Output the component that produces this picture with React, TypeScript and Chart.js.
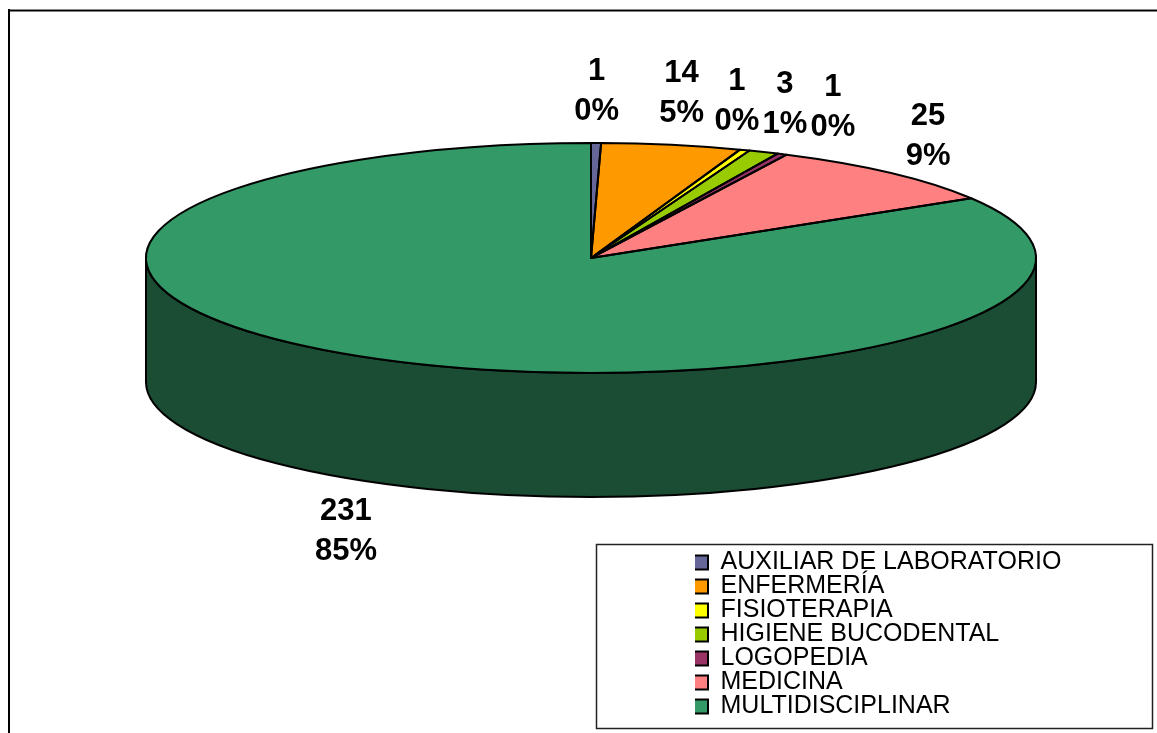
import React, { useEffect, useRef } from "react";
import { Chart, registerables } from "chart.js";

Chart.register(...registerables);

const CATEGORIES = [
  "AUXILIAR DE LABORATORIO",
  "ENFERMERÍA",
  "FISIOTERAPIA",
  "HIGIENE BUCODENTAL",
  "LOGOPEDIA",
  "MEDICINA",
  "MULTIDISCIPLINAR",
];
const VALUES = [1, 14, 1, 3, 1, 25, 231];
const PERCENT_LABELS = ["0%", "5%", "0%", "1%", "0%", "9%", "85%"];
const COLORS = ["#666699", "#FF9900", "#FFFF00", "#99CC00", "#993366", "#FF8080", "#339966"];

// layout constants
const W = 1157;
const H = 733;
const CX = 591;
const CY = 258;
const RX = 445;
const RY = 115;
const DEPTH = 124;
const LABEL_A = 500;
const LABEL_B = 172;
const LABEL_TOP_DY = 5;
const LABEL_GAP = 48;
const FONT = "'Liberation Sans', Arial, Helvetica, sans-serif";

function darken(hex: string, f: number) {
  const n = parseInt(hex.slice(1), 16);
  const r = Math.round(((n >> 16) & 255) * f);
  const g = Math.round(((n >> 8) & 255) * f);
  const b = Math.round((n & 255) * f);
  return `rgb(${r},${g},${b})`;
}

const pie3d = {
  id: "pie3d",
  beforeDraw(chart: any) {
    const ctx = chart.ctx;
    ctx.save();
    ctx.fillStyle = "#fff";
    ctx.fillRect(0, 0, W, H);
    ctx.fillStyle = "#888";
    ctx.fillRect(8, 9, W - 8, 1);
    ctx.fillStyle = "#000";
    ctx.fillRect(8, 10, W - 8, 1.5);
    ctx.fillRect(8, 9, 2, H - 9);
    // legend frame
    ctx.strokeStyle = "#222";
    ctx.lineWidth = 1.5;
    ctx.strokeRect(596.5, 544.5, 556, 184);
    ctx.restore();
  },
  afterLayout(chart: any) {
    const lg = chart.legend;
    if (lg) {
      lg.left = 695;
      lg.right = 1150;
      lg.top = 551;
      lg.bottom = 733;
    }
  },
  beforeDatasetsDraw(chart: any) {
    const ctx = chart.ctx;
    const arcs = chart.getDatasetMeta(0).data;
    // side walls (front half only)
    ctx.save();
    ctx.lineWidth = 2;
    ctx.strokeStyle = "#000";
    ctx.lineJoin = "round";
    arcs.forEach((arc: any, i: number) => {
      const s = arc.startAngle;
      const e = arc.endAngle;
      const a = Math.max(s, 0);
      const b = Math.min(e, Math.PI);
      if (b > a) {
        ctx.beginPath();
        ctx.ellipse(CX, CY, RX, RY, 0, a, b, false);
        ctx.ellipse(CX, CY + DEPTH, RX, RY, 0, b, a, true);
        ctx.closePath();
        ctx.fillStyle = darken(COLORS[i], 0.5);
        ctx.fill();
        ctx.stroke();
      }
    });
    ctx.restore();
    // map Chart.js circle onto the ellipse of the top face
    const a0 = arcs[0];
    const r = a0.outerRadius;
    ctx.save();
    ctx.translate(CX, CY);
    ctx.scale(RX / r, RY / r);
    ctx.translate(-a0.x, -a0.y);
  },
  afterDatasetsDraw(chart: any) {
    const ctx = chart.ctx;
    ctx.restore();
    const arcs = chart.getDatasetMeta(0).data;
    ctx.save();
    ctx.lineWidth = 2;
    ctx.strokeStyle = "#000";
    ctx.lineJoin = "round";
    arcs.forEach((arc: any) => {
      ctx.beginPath();
      ctx.moveTo(CX, CY);
      ctx.ellipse(CX, CY, RX, RY, 0, arc.startAngle, arc.endAngle, false);
      ctx.closePath();
      ctx.stroke();
    });
    // data labels
    const labels = arcs.map((arc: any, i: number) => {
      const mid = (arc.startAngle + arc.endAngle) / 2;
      const sn = Math.sin(mid);
      return {
        i,
        x: CX + LABEL_A * Math.cos(mid),
        y: CY + LABEL_B * sn + (sn > 0 ? DEPTH : LABEL_TOP_DY),
        top: sn < 0,
      };
    });
    const tops = labels.filter((l: any) => l.top).sort((p: any, q: any) => p.x - q.x);
    for (let it = 0; it < 300; it++) {
      for (let k = 0; k < tops.length - 1; k++) {
        const d = tops[k + 1].x - tops[k].x;
        if (d < LABEL_GAP) {
          const m = (LABEL_GAP - d) / 2;
          tops[k].x -= m;
          tops[k + 1].x += m;
        }
      }
    }
    ctx.fillStyle = "#000";
    ctx.font = `bold 31px ${FONT}`;
    ctx.textAlign = "center";
    ctx.textBaseline = "middle";
    labels.forEach((l: any) => {
      ctx.fillText(String(VALUES[l.i]), l.x, l.y - 20);
      ctx.fillText(PERCENT_LABELS[l.i], l.x, l.y + 20);
    });
    ctx.restore();
  },
};

export default function App() {
  const ref = useRef<HTMLCanvasElement | null>(null);
  useEffect(() => {
    document.body.style.overflow = "hidden";
    const canvas = ref.current;
    if (!canvas) return;
    const baseGen = (Chart as any).overrides.doughnut.plugins.legend.labels.generateLabels;
    const chart = new Chart(canvas, {
      type: "pie",
      data: {
        labels: CATEGORIES,
        datasets: [
          {
            data: VALUES,
            backgroundColor: COLORS,
            borderWidth: 0,
            clip: false,
          } as any,
        ],
      },
      options: {
        responsive: false,
        animation: false,
        devicePixelRatio: 1,
        events: [],
        layout: { padding: 0 },
        plugins: {
          tooltip: { enabled: false },
          legend: {
            position: "right",
            align: "start",
            labels: {
              boxWidth: 14,
              boxHeight: 14,
              padding: -1,
              color: "#000",
              font: { size: 25, family: FONT },
              generateLabels: (c: any) =>
                baseGen(c).map((l: any) => ({ ...l, lineWidth: 2, strokeStyle: "#000", fontColor: "#000" })),
            },
          },
        },
      } as any,
      plugins: [pie3d as any],
    });
    return () => chart.destroy();
  }, []);
  return (
    <div style={{ position: "fixed", left: 0, top: 0, width: W, height: H, overflow: "hidden" }}>
      <canvas ref={ref} width={W} height={H} style={{ display: "block", width: W, height: H }} />
    </div>
  );
}
